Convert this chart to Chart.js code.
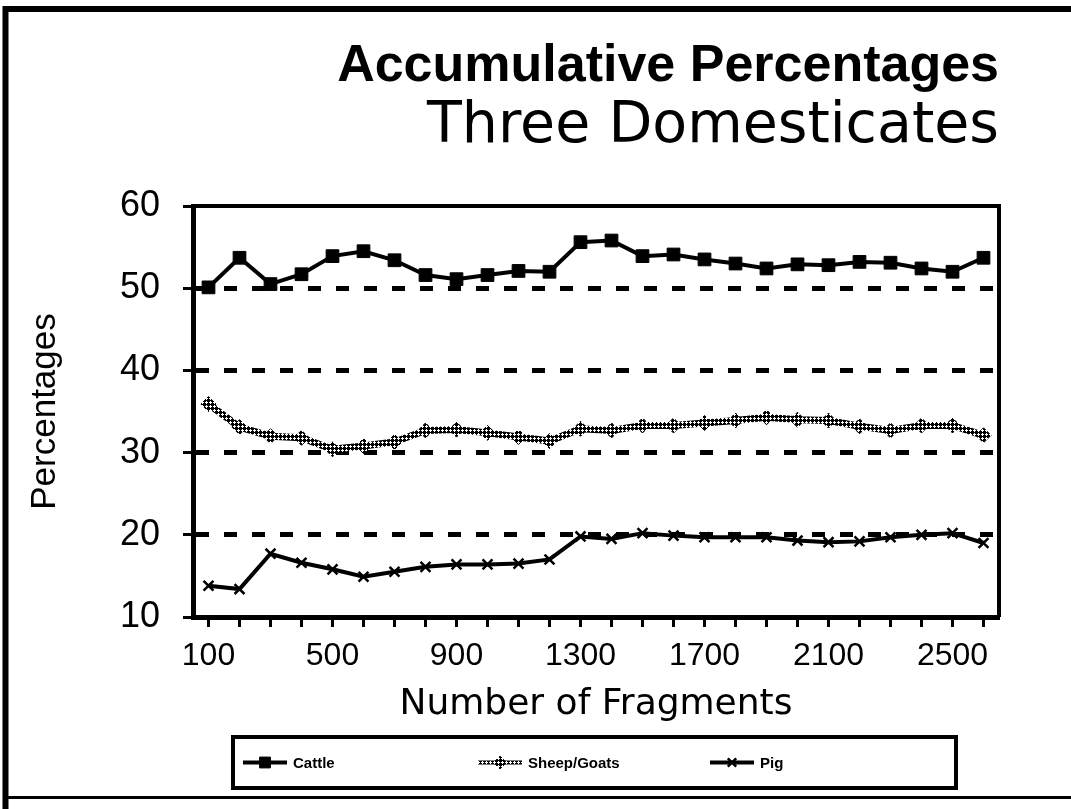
<!DOCTYPE html>
<html>
<head>
<meta charset="utf-8">
<title>Accumulative Percentages</title>
<script src="https://cdn.jsdelivr.net/npm/chart.js@4.4.1/dist/chart.umd.min.js"></script>
<style>
  html, body { margin: 0; padding: 0; background: #fff; }
  #wrap { width: 1071px; height: 809px; }
</style>
</head>
<body>
<div id="wrap"><canvas id="fragChart" width="1071" height="809"></canvas></div>
<script>
// sample sizes (number of fragments counted so far)
const fragments = ['100', '200', '300', '400', '500', '600', '700', '800', '900', '1000',
  '1100', '1200', '1300', '1400', '1500', '1600', '1700', '1800', '1900', '2000',
  '2100', '2200', '2300', '2400', '2500', '2600'];
const shownTicks = ['100', '500', '900', '1300', '1700', '2100', '2500'];
const yTicks = [10, 20, 30, 40, 50, 60];

// running percentages per taxon
const cattle = [50.1, 53.7, 50.5, 51.7, 53.9, 54.5, 53.4, 51.6, 51.1, 51.6, 52.1, 52.0, 55.6,
  55.8, 53.9, 54.1, 53.5, 53.0, 52.4, 52.9, 52.8, 53.2, 53.1, 52.4, 52.0, 53.7];
const sheepGoats = [35.9, 33.1, 32.0, 31.8, 30.4, 30.8, 31.3, 32.7, 32.8, 32.4, 31.9, 31.4, 32.9,
  32.7, 33.3, 33.3, 33.6, 33.9, 34.3, 34.0, 33.9, 33.2, 32.7, 33.3, 33.3, 32.1];
const pig = [13.8, 13.4, 17.7, 16.6, 15.8, 14.9, 15.5, 16.1, 16.4, 16.4, 16.5, 17.0, 19.8,
  19.5, 20.2, 19.9, 19.7, 19.7, 19.7, 19.3, 19.1, 19.2, 19.7, 20.0, 20.2, 19.0];

const FONT = "'Liberation Sans', Arial, Helvetica, sans-serif";
const WIDE = "'DejaVu Sans', 'Liberation Sans', Arial, sans-serif";

const canvas = document.getElementById('fragChart');
const ctx = canvas.getContext('2d');

// cross-hatch tile for the sheep/goat line: black with small diamond holes
function hatch() {
  const tile = document.createElement('canvas');
  tile.width = 4;
  tile.height = 4;
  const g = tile.getContext('2d');
  g.fillStyle = '#000';
  g.fillRect(0, 0, 4, 4);
  g.fillStyle = '#fff';
  [[2, 1], [1, 2], [2, 2], [3, 2], [2, 3]].forEach(function (p) {
    g.fillRect(p[0], p[1], 1, 1);
  });
  return ctx.createPattern(tile, 'repeat');
}
const hatchFill = hatch();

// outer frame of the figure
const pageFrame = {
  id: 'pageFrame',
  beforeDraw(chart) {
    const c = chart.ctx;
    c.save();
    c.fillStyle = '#fff';
    c.fillRect(0, 0, chart.width, chart.height);
    c.strokeStyle = '#000';
    c.lineWidth = 6;
    c.beginPath();
    c.moveTo(5.5, 809);
    c.lineTo(5.5, 9);
    c.lineTo(1071, 9);
    c.stroke();
    c.lineWidth = 3;
    c.beginPath();
    c.moveTo(5, 797.5);
    c.lineTo(1071, 797.5);
    c.stroke();
    c.restore();
  }
};

// top and right edges of the plot box
const plotBox = {
  id: 'plotBox',
  afterDatasetsDraw(chart) {
    const a = chart.chartArea;
    const c = chart.ctx;
    c.save();
    c.strokeStyle = '#000';
    c.lineWidth = 4;
    c.beginPath();
    c.moveTo(a.left, a.top);
    c.lineTo(a.right, a.top);
    c.lineTo(a.right, a.bottom);
    c.stroke();
    c.restore();
  }
};

// boxed legend along the bottom
const boxLegend = {
  id: 'boxLegend',
  afterDraw(chart, args, opts) {
    const c = chart.ctx;
    c.save();
    c.strokeStyle = '#000';
    c.lineWidth = 4;
    c.strokeRect(opts.left, opts.top, opts.width, opts.height);
    const cy = opts.top + opts.height / 2;
    chart.data.datasets.forEach(function (ds, i) {
      const x = opts.left + opts.itemX[i];
      c.strokeStyle = ds.borderColor;
      c.lineWidth = Math.min(ds.borderWidth, 4);
      c.beginPath();
      c.moveTo(x, cy);
      c.lineTo(x + opts.iconWidth, cy);
      c.stroke();
      c.fillStyle = ds.pointBackgroundColor;
      c.strokeStyle = ds.pointBorderColor;
      c.lineWidth = ds.pointBorderWidth;
      Chart.helpers.drawPoint(c, {
        pointStyle: ds.pointStyle,
        radius: ds.pointRadius * 0.85,
        borderWidth: ds.pointBorderWidth,
        rotation: 0
      }, x + opts.iconWidth / 2, cy);
      c.fillStyle = '#000';
      c.font = opts.font;
      c.textAlign = 'left';
      c.textBaseline = 'middle';
      c.fillText(ds.label, x + opts.iconWidth + 6, cy + 1);
    });
    c.restore();
  }
};

new Chart(ctx, {
  type: 'line',
  data: {
    labels: fragments,
    datasets: [{
      label: 'Cattle',
      data: cattle,
      borderColor: '#000',
      borderWidth: 4,
      pointStyle: 'rect',
      pointRadius: 9,
      pointBackgroundColor: '#000',
      pointBorderColor: '#000',
      pointBorderWidth: 1,
      tension: 0
    }, {
      label: 'Sheep/Goats',
      data: sheepGoats,
      borderColor: hatchFill,
      borderWidth: 7,
      pointStyle: 'rectRot',
      pointRadius: 7.5,
      pointBackgroundColor: hatchFill,
      pointBorderColor: hatchFill,
      pointBorderWidth: 1,
      tension: 0
    }, {
      label: 'Pig',
      data: pig,
      borderColor: '#000',
      borderWidth: 4,
      pointStyle: 'crossRot',
      pointRadius: 7,
      pointBackgroundColor: '#000',
      pointBorderColor: '#000',
      pointBorderWidth: 2.5,
      tension: 0
    }]
  },
  options: {
    responsive: false,
    animation: false,
    events: [],
    layout: { padding: { left: 20, right: 72, top: 10, bottom: 86 } },
    scales: {
      x: {
        type: 'category',
        offset: true,
        grid: {
          offset: false,
          drawOnChartArea: false,
          drawTicks: true,
          tickLength: 10,
          tickWidth: 3,
          tickColor: '#000'
        },
        border: { display: true, color: '#000', width: 5 },
        ticks: {
          autoSkip: false,
          maxRotation: 0,
          padding: 13,
          color: '#000',
          font: { family: FONT, size: 32, lineHeight: 1 },
          callback: function (value) {
            const lab = this.getLabelForValue(value);
            return shownTicks.includes(lab) ? lab : '';
          }
        },
        title: {
          display: true,
          text: 'Number of Fragments',
          color: '#000',
          font: { family: WIDE, size: 36, lineHeight: 1 },
          padding: { top: 2, bottom: 0 }
        }
      },
      y: {
        min: 10,
        max: 60,
        afterBuildTicks: function (scale) {
          scale.ticks = yTicks.map(function (v) { return { value: v }; });
        },
        afterFit: function (scale) { scale.width = 173; },
        grid: {
          color: function (c) {
            return c.tick && (c.tick.value === 10 || c.tick.value === 60) ? 'rgba(0,0,0,0)' : '#000';
          },
          lineWidth: 5,
          drawTicks: true,
          tickLength: 10,
          tickWidth: 3,
          tickColor: '#000'
        },
        border: { display: true, color: '#000', width: 5, dash: [13, 15] },
        ticks: {
          padding: 23,
          color: '#000',
          font: { family: FONT, size: 36 }
        },
        title: {
          display: true,
          text: 'Percentages',
          color: '#000',
          font: { family: FONT, size: 35 },
          padding: { top: 4, bottom: 54 }
        }
      }
    },
    plugins: {
      legend: { display: false },
      tooltip: { enabled: false },
      title: {
        display: true,
        text: 'Accumulative Percentages',
        align: 'end',
        color: '#000',
        font: { family: FONT, size: 52, weight: 'bold', lineHeight: 1 },
        padding: { top: 31, bottom: 0 }
      },
      subtitle: {
        display: true,
        text: 'Three Domesticates',
        align: 'end',
        color: '#000',
        font: { family: WIDE, size: 57, weight: 'normal', lineHeight: 1 },
        padding: { top: 6, bottom: 50 }
      },
      boxLegend: {
        left: 233,
        top: 737,
        width: 723,
        height: 51,
        itemX: [10, 245, 477],
        iconWidth: 44,
        font: 'bold 15px ' + FONT
      }
    }
  },
  plugins: [pageFrame, plotBox, boxLegend]
});
</script>
</body>
</html>
